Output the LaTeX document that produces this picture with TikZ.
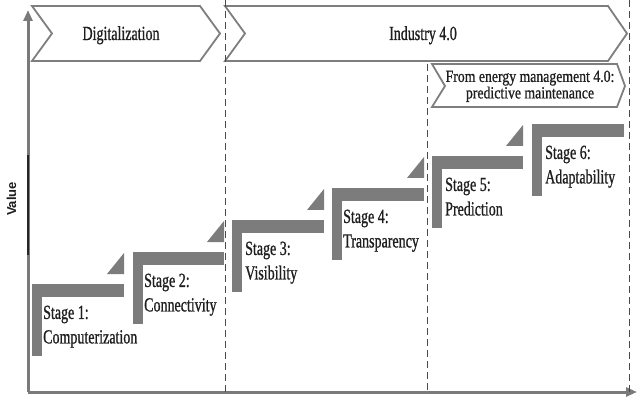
\documentclass[tikz,border=0pt]{standalone}
\usepackage{fontspec}
\setmainfont{Liberation Serif}[FakeStretch=0.7,FakeBold=0.8]
\newfontfamily\subfont{Liberation Serif}[FakeStretch=0.81,FakeBold=0.8]
\newfontfamily\valuefont{Liberation Sans}
\usetikzlibrary{arrows.meta}
\definecolor{bargray}{HTML}{7C7C7C}
\definecolor{axisgray}{HTML}{7A7A7A}
\definecolor{chevgray}{HTML}{7E7E7E}
\definecolor{dashgray}{HTML}{4A4A4A}
\definecolor{txt}{HTML}{1E1E1E}
\begin{document}
\begin{tikzpicture}[x=1pt,y=-1pt,
  chevron/.style={draw=chevgray,line width=1.8pt,fill=white,line join=miter},
  bar/.style={fill=bargray},
  axisline/.style={draw=axisgray,line width=3pt,-{Triangle[length=11pt,width=9pt]}},
  divider/.style={draw=dashgray,line width=1pt,dash pattern=on 7pt off 4pt},
  stagetext/.style={anchor=north west,inner sep=0pt,align=left,text=txt,
    font=\fontsize{20}{24.5}\selectfont},
  phasetext/.style={anchor=base,inner sep=0pt,text=txt,font=\fontsize{20}{24}\selectfont},
  subtext/.style={inner sep=0pt,align=center,text=txt,font=\subfont\fontsize{17}{14.7}\selectfont}]
\useasboundingbox (0,0) rectangle (637,398);
\fill[white] (0,0) rectangle (637,398);

% axes
\coordinate (origin) at (28,392);
\coordinate (ytop) at (28,10);
\coordinate (xend) at (637,392);
\draw[axisline] (origin) -- (ytop);
\draw[axisline] (origin) -- (xend);
\coordinate (dk1) at (28,155);
\coordinate (dk2) at (28,255);
\draw[black!85,line width=1.3pt] (dk1) -- (dk2);
\node[font=\valuefont\bfseries\fontsize{13}{15}\selectfont,text=txt,rotate=90,inner sep=0pt] (value) at (11.5,199) {Value};

% phase chevrons
\draw[chevron] (32,6) -- (200,6) -- (220,33.5) -- (200,61) -- (32,61) -- (52,33.5) -- cycle;
\node[phasetext] (digi) at (121,40) {Digitalization};
\draw[chevron] (225,6) -- (608,6) -- (627,33.5) -- (608,61) -- (225,61) -- (245,33.5) -- cycle;
\node[phasetext] (ind) at (423,40) {Industry 4.0};
\draw[chevron] (432,64) -- (617,64) -- (625,86) -- (617,107) -- (432,107) -- (445,86) -- cycle;
\node[subtext] (pm) at (530,86.3) {From energy management 4.0:\\predictive maintenance};

% stage steps
\foreach \l/\t/\r/\tri in {32/284/124/1,133/252/224/1,232/220/324/1,332/188/424/1,432/156/523/1,532/124/624/0}{
  \fill[bar] (\l,\t) rectangle (\r,\t+13);
  \fill[bar] (\l,\t) rectangle (\l+10,\t+72);
  \ifnum\tri=1
    \fill[bar] (\r-17,\t-10) -- (\r,\t-10) -- (\r,\t-31) -- cycle;
  \fi
}
\node[stagetext] (s1) at (43,305.5) {Stage 1:\\Computerization};
\node[stagetext] (s2) at (144,273.5) {Stage 2:\\Connectivity};
\node[stagetext] (s3) at (245,241.5) {Stage 3:\\Visibility};
\node[stagetext] (s4) at (343,209.5) {Stage 4:\\Transparency};
\node[stagetext] (s5) at (445,177.5) {Stage 5:\\Prediction};
\node[stagetext] (s6) at (545,145.5) {Stage 6:\\Adaptability};

% dividers
\coordinate (d1a) at (225,0); \coordinate (d1b) at (225,392);
\coordinate (d2a) at (427,64); \coordinate (d2b) at (427,392);
\coordinate (d3a) at (629,0); \coordinate (d3b) at (629,392);
\draw[divider] (d1a) -- (d1b);
\draw[divider] (d2a) -- (d2b);
\draw[divider] (d3a) -- (d3b);
\end{tikzpicture}
\end{document}
